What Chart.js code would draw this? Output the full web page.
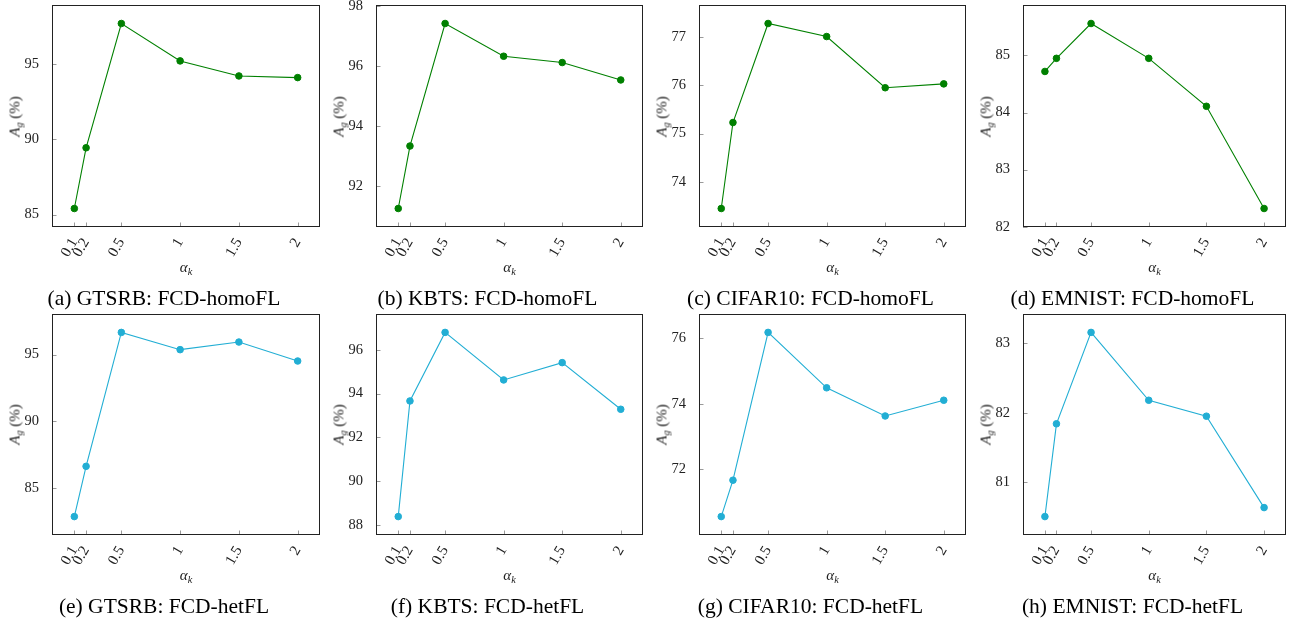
<!DOCTYPE html>
<html><head><meta charset="utf-8">
<script src="https://cdn.jsdelivr.net/npm/chart.js@4.4.0/dist/chart.umd.min.js"></script>
<style>
html,body{margin:0;padding:0;background:#fff;width:1291px;height:619px;overflow:hidden;position:relative;font-family:"Liberation Serif",serif;}
canvas{position:absolute;}
.cap{position:absolute;width:320px;text-align:center;font-size:21.5px;line-height:21px;color:#000;white-space:nowrap;}
.xl{position:absolute;width:100px;text-align:center;font-size:15px;line-height:15px;color:#222;}
.yl{position:absolute;width:100px;text-align:center;font-size:15px;line-height:15px;color:#222;transform:rotate(-90deg);white-space:nowrap;}
sub{font-size:0.68em;vertical-align:-0.3em;line-height:0;}
</style></head><body>
<script>
// ---- data ----
const alphaK = [0.1, 0.2, 0.5, 1, 1.5, 2];
const xTickLabels = ["0.1", "0.2", "0.5", "1", "1.5", "2"];

const gtsrbHomo  = [85.40, 89.44, 97.71, 95.22, 94.22, 94.11];
const kbtsHomo   = [91.25, 93.33, 97.41, 96.32, 96.11, 95.53];
const cifarHomo  = [73.45, 75.23, 77.28, 77.01, 75.95, 76.03];
const emnistHomo = [84.72, 84.95, 85.56, 84.95, 84.11, 82.32];
const gtsrbHet   = [82.88, 86.64, 96.66, 95.37, 95.94, 94.52];
const kbtsHet    = [88.38, 93.66, 96.79, 94.62, 95.41, 93.28];
const cifarHet   = [70.56, 71.67, 76.18, 74.49, 73.63, 74.11];
const emnistHet  = [80.50, 81.84, 83.16, 82.18, 81.95, 80.63];

const yTicksGtsrbHomo  = [85, 90, 95];
const yTicksKbtsHomo   = [92, 94, 96, 98];
const yTicksCifarHomo  = [74, 75, 76, 77];
const yTicksEmnistHomo = [82, 83, 84, 85];
const yTicksGtsrbHet   = [85, 90, 95];
const yTicksKbtsHet    = [88, 90, 92, 94, 96];
const yTicksCifarHet   = [72, 74, 76];
const yTicksEmnistHet  = [81, 82, 83];

const captions = [
  "(a) GTSRB: FCD-homoFL", "(b) KBTS: FCD-homoFL", "(c) CIFAR10: FCD-homoFL", "(d) EMNIST: FCD-homoFL",
  "(e) GTSRB: FCD-hetFL", "(f) KBTS: FCD-hetFL", "(g) CIFAR10: FCD-hetFL", "(h) EMNIST: FCD-hetFL"
];

// ---- layout ----
const colX = [[52, 320], [376, 643], [699, 966], [1023, 1286]];
const rowY = [[5, 227], [314, 535]];
const L = 48, T = 16, R = 4, B = 50;
const GREEN = '#008000', CYAN = '#22aed4';

const panels = [
  {vals: gtsrbHomo, ticks: yTicksGtsrbHomo, color: GREEN},
  {vals: kbtsHomo, ticks: yTicksKbtsHomo, color: GREEN},
  {vals: cifarHomo, ticks: yTicksCifarHomo, color: GREEN},
  {vals: emnistHomo, ticks: yTicksEmnistHomo, color: GREEN},
  {vals: gtsrbHet, ticks: yTicksGtsrbHet, color: CYAN},
  {vals: kbtsHet, ticks: yTicksKbtsHet, color: CYAN},
  {vals: cifarHet, ticks: yTicksCifarHet, color: CYAN},
  {vals: emnistHet, ticks: yTicksEmnistHet, color: CYAN}
];

const frame = {
  id: 'frame',
  beforeDatasetsDraw(chart) {
    const {ctx, chartArea: a, scales: {x, y}} = chart;
    ctx.save();
    ctx.strokeStyle = '#9a9a9a';
    ctx.lineWidth = 1;
    ctx.beginPath();
    x.ticks.forEach(t => {
      const px = Math.round(x.getPixelForValue(t.value)) + 0.5;
      ctx.moveTo(px, a.bottom); ctx.lineTo(px, a.bottom - 4.5);
    });
    y.ticks.forEach(t => {
      const py = Math.round(y.getPixelForValue(t.value)) + 0.5;
      ctx.moveTo(a.left, py); ctx.lineTo(a.left + 4.5, py);
    });
    ctx.stroke();
    ctx.strokeStyle = '#222';
    ctx.strokeRect(a.left + 0.5, a.top + 0.5, a.width - 1, a.height - 1);
    ctx.restore();
  }
};

Chart.defaults.font.family = '"Liberation Serif", serif';

panels.forEach((p, i) => {
  const [l, r] = colX[i % 4];
  const [t, b] = rowY[Math.floor(i / 4)];
  const cv = document.createElement('canvas');
  const w = (r - l) + L + R, h = (b - t) + T + B;
  cv.width = w; cv.height = h;
  cv.style.left = (l - L) + 'px'; cv.style.top = (t - T) + 'px';
  cv.style.width = w + 'px'; cv.style.height = h + 'px';
  document.body.appendChild(cv);

  const lo = Math.min(...p.vals), hi = Math.max(...p.vals), rg = hi - lo;
  const chart = new Chart(cv, {
    type: 'line',
    data: {
      datasets: [{
        data: alphaK.map((a, k) => ({x: a, y: p.vals[k]})),
        borderColor: p.color, backgroundColor: p.color,
        borderWidth: 1.1, pointRadius: 3.3, pointBorderWidth: 1,
        pointBackgroundColor: p.color, pointBorderColor: p.color, tension: 0
      }]
    },
    options: {
      responsive: false, animation: false, devicePixelRatio: 1,
      layout: {padding: {top: T, right: R, left: 0, bottom: 0}, autoPadding: false},
      plugins: {legend: {display: false}, tooltip: {enabled: false}},
      scales: {
        x: {
          type: 'linear', min: -0.09, max: 2.19,
          afterBuildTicks: s => { s.ticks = alphaK.map(v => ({value: v})); },
          afterFit: s => { s.height = B; },
          grid: {display: false}, border: {display: false},
          ticks: {autoSkip: false, minRotation: 60, maxRotation: 60, padding: 0,
                  font: {size: 15}, color: '#222',
                  callback: v => xTickLabels[alphaK.indexOf(v)]}
        },
        y: {
          type: 'linear', min: lo - 0.1 * rg, max: hi + 0.1 * rg,
          afterBuildTicks: s => { s.ticks = p.ticks.map(v => ({value: v})); },
          afterFit: s => { s.width = L; },
          grid: {display: false}, border: {display: false},
          ticks: {padding: 5, font: {size: 14.5}, color: '#222', callback: v => String(v)}
        }
      }
    },
    plugins: [frame]
  });
  // align the chart area exactly with the intended box
  const a = chart.chartArea;
  cv.style.left = (l - a.left) + 'px';
  cv.style.top = (t - a.top) + 'px';

  const cx = (l + r) / 2;
  const yl = document.createElement('div');
  yl.className = 'yl';
  yl.innerHTML = '<i>A</i><sub><i>g</i></sub> (%)';
  yl.style.left = (l - 37 - 50) + 'px';
  yl.style.top = ((t + b) / 2 - 7.5) + 'px';
  document.body.appendChild(yl);

  const xl = document.createElement('div');
  xl.className = 'xl';
  xl.innerHTML = '<i>α</i><sub><i>k</i></sub>';
  xl.style.left = (cx - 50) + 'px';
  xl.style.top = (b + 33) + 'px';
  document.body.appendChild(xl);

  const cap = document.createElement('div');
  cap.className = 'cap';
  cap.textContent = captions[i];
  cap.style.left = (cx - 22 - 160) + 'px';
  cap.style.top = (b + 61) + 'px';
  document.body.appendChild(cap);
});
</script>
</body></html>
